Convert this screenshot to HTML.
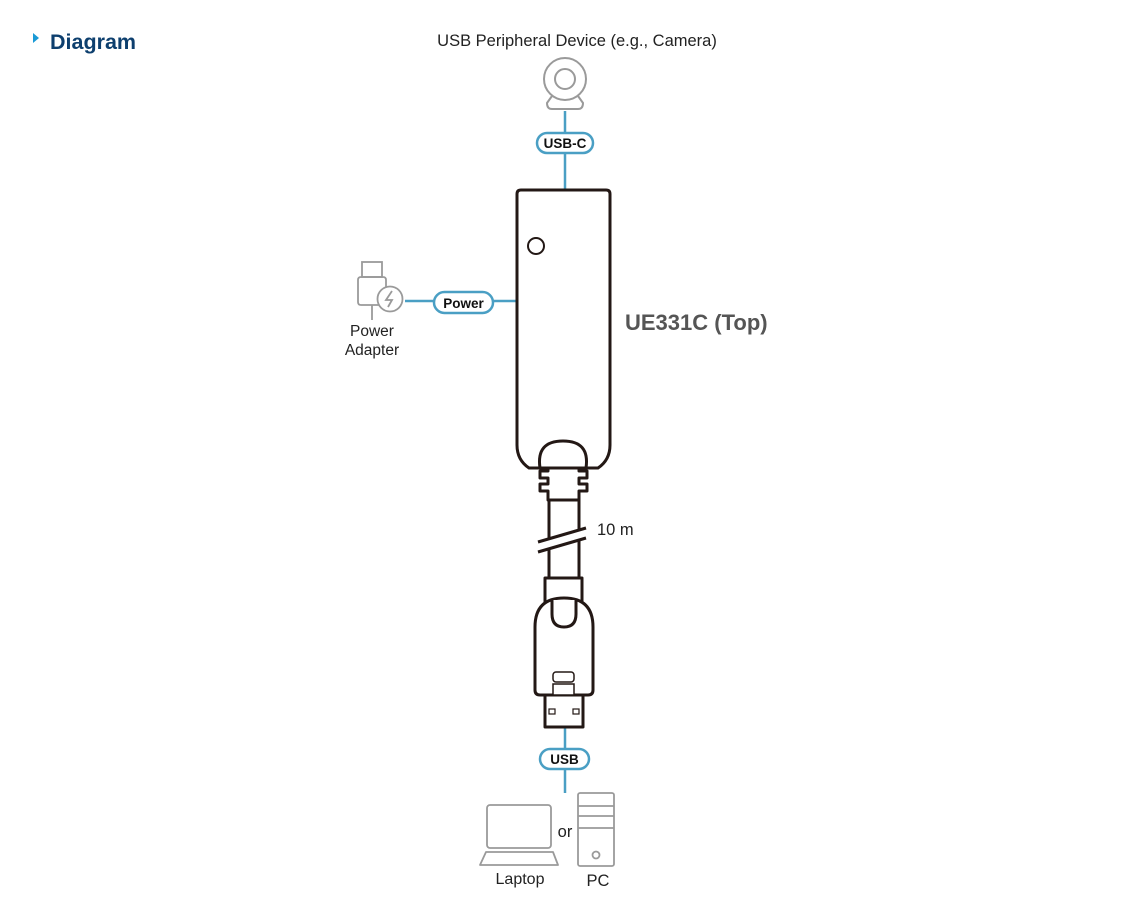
<!DOCTYPE html>
<html><head><meta charset="utf-8"><style>
html,body{margin:0;padding:0;background:#fff;width:1140px;height:917px;overflow:hidden}
svg{display:block}
text{font-family:"Liberation Sans",Arial,sans-serif}
</style></head><body>
<svg width="1140" height="917" viewBox="0 0 1140 917" xmlns="http://www.w3.org/2000/svg">
<polygon points="33,33 39,38 33,43" fill="#1a9ad6"/>
<text x="50" y="49" font-size="21.5" font-weight="bold" fill="#0d3f6e">Diagram</text>

<text x="577" y="46" font-size="16.5" fill="#222" text-anchor="middle">USB Peripheral Device (e.g., Camera)</text>

<g fill="none" stroke="#9a9a9a" stroke-width="2">
<circle cx="565" cy="79" r="21"/>
<circle cx="565" cy="79" r="10"/>
<path d="M552,96 L547,103 Q547,109 552,109 L578,109 Q583,109 583,103 L578,96"/>
</g>

<g stroke="#4a9fc4" stroke-width="2.5" fill="none">
<line x1="565" y1="111" x2="565" y2="190"/>
<line x1="405" y1="301" x2="517" y2="301"/>
<line x1="565" y1="728" x2="565" y2="793"/>
<rect x="537" y="133" width="56" height="20" rx="10" fill="#fff"/>
<rect x="434" y="292" width="59" height="21" rx="10.5" fill="#fff"/>
<rect x="540" y="749" width="49" height="20" rx="10" fill="#fff"/>
</g>
<g font-size="13.5" font-weight="bold" fill="#111" text-anchor="middle">
<text x="565" y="148">USB-C</text>
<text x="463.5" y="308">Power</text>
<text x="564.5" y="764">USB</text>
</g>

<g fill="none" stroke="#9a9a9a" stroke-width="1.8">
<rect x="362" y="262" width="20" height="15"/>
<path d="M380,305 L361,305 Q358,305 358,302 L358,280 Q358,277 361,277 L383,277 Q386,277 386,280 L386,287"/>
<circle cx="390" cy="299" r="12.5" fill="#fff"/>
<path d="M392,291 L386,300 L392,300 L388,307"/>
<line x1="372" y1="305" x2="372" y2="320"/>
</g>
<text x="372" y="336" font-size="15.5" fill="#222" text-anchor="middle">Power</text>
<text x="372" y="355" font-size="15.5" fill="#222" text-anchor="middle">Adapter</text>

<g fill="#fff" stroke="#231815" stroke-width="3" stroke-linejoin="round">
<path d="M521,190 L606,190 Q610,190 610,194 L610,445 Q610,460 598,468 L529,468 Q517,460 517,445 L517,194 Q517,190 521,190 Z"/>
<path d="M540,468 Q536,441 563,441 Q590,441 586,468 Z"/>
<circle cx="536" cy="246" r="8" stroke-width="2"/>
<path d="M548,468 L579,468 L579,471 L587,471 L587,478 L579,478 L579,484 L587,484 L587,491 L579,491 L579,500 L548,500 L548,491 L540,491 L540,484 L548,484 L548,478 L540,478 L540,471 L548,471 Z"/>
<rect x="549" y="500" width="30" height="78"/>
</g>
<g stroke="#231815" stroke-width="3">
<polygon points="538,542 586,528 586,538 538,552" fill="#fff" stroke="none"/>
<line x1="538" y1="542" x2="586" y2="528"/>
<line x1="538" y1="552" x2="586" y2="538"/>
</g>
<text x="597" y="535" font-size="16.5" fill="#222">10 m</text>

<g fill="#fff" stroke="#231815" stroke-width="3" stroke-linejoin="round">
<rect x="545" y="578" width="37" height="28"/>
<rect x="545" y="695" width="38" height="32"/>
<path d="M535,627 Q535,598 564,598 Q593,598 593,627 L593,690 Q593,695 588,695 L540,695 Q535,695 535,690 Z"/>
<path d="M552,600 L552,614 Q552,627 564,627 Q576,627 576,614 L576,600"/>
</g>
<g fill="#fff" stroke="#231815" stroke-width="1.5">
<rect x="553" y="672" width="21" height="10" rx="3"/>
<rect x="553" y="684" width="21" height="11"/>
<rect x="549" y="709" width="6" height="5" stroke-width="1.2"/>
<rect x="573" y="709" width="6" height="5" stroke-width="1.2"/>
</g>

<text x="625" y="330" font-size="22" font-weight="bold" fill="#555">UE331C (Top)</text>

<g fill="none" stroke="#9a9a9a" stroke-width="1.8">
<rect x="487" y="805" width="64" height="43" rx="3"/>
<path d="M486,852 L553,852 L558,865 L480,865 Z" stroke-linejoin="round"/>
<rect x="578" y="793" width="36" height="73" rx="2"/>
<line x1="578" y1="806" x2="614" y2="806"/>
<line x1="578" y1="816" x2="614" y2="816"/>
<line x1="578" y1="828" x2="614" y2="828"/>
<circle cx="596" cy="855" r="3.5"/>
</g>
<text x="565" y="837" font-size="16.5" fill="#222" text-anchor="middle">or</text>
<text x="520" y="884" font-size="16" fill="#222" text-anchor="middle">Laptop</text>
<text x="598" y="886" font-size="16.5" fill="#222" text-anchor="middle">PC</text>
</svg>
</body></html>
